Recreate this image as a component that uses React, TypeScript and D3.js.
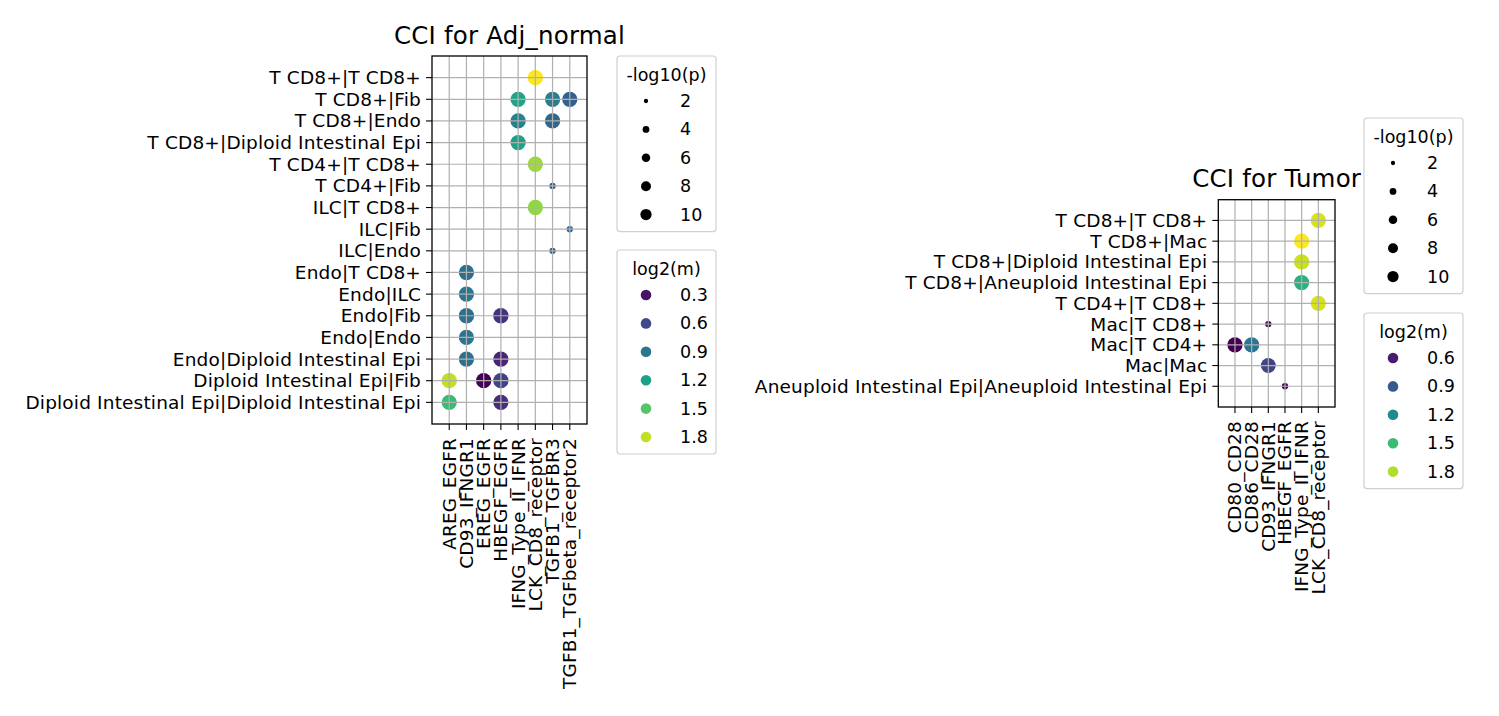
import React from 'react';
import * as d3 from 'd3';

const leftRows = [
  'T CD8+|T CD8+', 'T CD8+|Fib', 'T CD8+|Endo', 'T CD8+|Diploid Intestinal Epi',
  'T CD4+|T CD8+', 'T CD4+|Fib', 'ILC|T CD8+', 'ILC|Fib', 'ILC|Endo',
  'Endo|T CD8+', 'Endo|ILC', 'Endo|Fib', 'Endo|Endo', 'Endo|Diploid Intestinal Epi',
  'Diploid Intestinal Epi|Fib', 'Diploid Intestinal Epi|Diploid Intestinal Epi',
];
const leftCols = [
  'AREG_EGFR', 'CD93_IFNGR1', 'EREG_EGFR', 'HBEGF_EGFR', 'IFNG_Type_II_IFNR',
  'LCK_CD8_receptor', 'TGFB1_TGFBR3', 'TGFB1_TGFbeta_receptor2',
];
// [pair, interaction, log2(m), -log10(p)]
const leftPoints: [string, string, number, number][] = [
  ['T CD8+|T CD8+', 'LCK_CD8_receptor', 1.97, 18],
  ['T CD8+|Fib', 'IFNG_Type_II_IFNR', 1.23, 18],
  ['T CD8+|Fib', 'TGFB1_TGFBR3', 0.95, 18],
  ['T CD8+|Fib', 'TGFB1_TGFbeta_receptor2', 0.74, 18],
  ['T CD8+|Endo', 'IFNG_Type_II_IFNR', 1.0, 18],
  ['T CD8+|Endo', 'TGFB1_TGFBR3', 0.79, 18],
  ['T CD8+|Diploid Intestinal Epi', 'IFNG_Type_II_IFNR', 1.22, 18],
  ['T CD4+|T CD8+', 'LCK_CD8_receptor', 1.71, 18],
  ['T CD4+|Fib', 'TGFB1_TGFBR3', 0.75, 3.6],
  ['ILC|T CD8+', 'LCK_CD8_receptor', 1.68, 18],
  ['ILC|Fib', 'TGFB1_TGFbeta_receptor2', 0.75, 3.6],
  ['ILC|Endo', 'TGFB1_TGFBR3', 0.75, 3.6],
  ['Endo|T CD8+', 'CD93_IFNGR1', 0.85, 18],
  ['Endo|ILC', 'CD93_IFNGR1', 0.9, 18],
  ['Endo|Fib', 'CD93_IFNGR1', 0.85, 18],
  ['Endo|Fib', 'HBEGF_EGFR', 0.47, 18],
  ['Endo|Endo', 'CD93_IFNGR1', 0.9, 18],
  ['Endo|Diploid Intestinal Epi', 'CD93_IFNGR1', 0.85, 18],
  ['Endo|Diploid Intestinal Epi', 'HBEGF_EGFR', 0.39, 18],
  ['Diploid Intestinal Epi|Fib', 'AREG_EGFR', 1.8, 18],
  ['Diploid Intestinal Epi|Fib', 'EREG_EGFR', 0.21, 18],
  ['Diploid Intestinal Epi|Fib', 'HBEGF_EGFR', 0.56, 18],
  ['Diploid Intestinal Epi|Diploid Intestinal Epi', 'AREG_EGFR', 1.41, 18],
  ['Diploid Intestinal Epi|Diploid Intestinal Epi', 'HBEGF_EGFR', 0.43, 18],
];
const leftColorDomain = [0.21, 1.97];
const leftColorTicks = [0.3, 0.6, 0.9, 1.2, 1.5, 1.8];

const rightRows = [
  'T CD8+|T CD8+', 'T CD8+|Mac', 'T CD8+|Diploid Intestinal Epi', 'T CD8+|Aneuploid Intestinal Epi',
  'T CD4+|T CD8+', 'Mac|T CD8+', 'Mac|T CD4+', 'Mac|Mac',
  'Aneuploid Intestinal Epi|Aneuploid Intestinal Epi',
];
const rightCols = [
  'CD80_CD28', 'CD86_CD28', 'CD93_IFNGR1', 'HBEGF_EGFR', 'IFNG_Type_II_IFNR', 'LCK_CD8_receptor',
];
const rightPoints: [string, string, number, number][] = [
  ['T CD8+|T CD8+', 'LCK_CD8_receptor', 1.89, 18],
  ['T CD8+|Mac', 'IFNG_Type_II_IFNR', 1.98, 18],
  ['T CD8+|Diploid Intestinal Epi', 'IFNG_Type_II_IFNR', 1.86, 18],
  ['T CD8+|Aneuploid Intestinal Epi', 'IFNG_Type_II_IFNR', 1.44, 18],
  ['T CD4+|T CD8+', 'LCK_CD8_receptor', 1.89, 18],
  ['Mac|T CD8+', 'CD93_IFNGR1', 0.5, 3.6],
  ['Mac|T CD4+', 'CD80_CD28', 0.48, 18],
  ['Mac|T CD4+', 'CD86_CD28', 1.07, 18],
  ['Mac|Mac', 'CD93_IFNGR1', 0.78, 17],
  ['Aneuploid Intestinal Epi|Aneuploid Intestinal Epi', 'HBEGF_EGFR', 0.5, 3.6],
];
const rightColorDomain = [0.48, 1.98];
const rightColorTicks = [0.6, 0.9, 1.2, 1.5, 1.8];

const sizeTicks = [2, 4, 6, 8, 10];

const FONT = 'DejaVu Sans, sans-serif';
const TICK_FS = 18.5;
const TICK_LS = 0.17;
const TITLE_FS = 24.5;
const TITLE_LS = 0.2;
const LEG_FS = 17.5;

// marker area (diameter^2) is linear in -log10(p)
const areaScale = d3.scaleLinear().domain([2, 10]).range([18.5, 126.5]);
const radius = (v: number) => Math.sqrt(Math.max(areaScale(v), 1)) / 2;

type Box = { x0: number; x1: number; y0: number; y1: number };

function Panel({ rows, cols, points, box, title, colorDomain }: {
  rows: string[]; cols: string[]; points: [string, string, number, number][];
  box: Box; title: string; colorDomain: number[];
}) {
  const x = d3.scalePoint<string>().domain(cols).range([box.x0, box.x1]).padding(1);
  const y = d3.scalePoint<string>().domain(rows).range([box.y0, box.y1]).padding(1);
  const color = d3.scaleSequential(d3.interpolateViridis).domain(colorDomain as [number, number]);
  return (
    <g>
      <text x={(box.x0 + box.x1) / 2} y={box.y0 - 12.5} textAnchor="middle" fontSize={TITLE_FS} letterSpacing={TITLE_LS} fill="#000">{title}</text>
      {points.map((p, i) => (
        <circle key={i} cx={x(p[1])} cy={y(p[0])} r={radius(p[3])} fill={color(p[2])} />
      ))}
      {cols.map((c) => (
        <line key={'gx' + c} x1={x(c)} x2={x(c)} y1={box.y0} y2={box.y1} stroke="#b0b0b0" strokeWidth={1.2} />
      ))}
      {rows.map((r) => (
        <line key={'gy' + r} x1={box.x0} x2={box.x1} y1={y(r)} y2={y(r)} stroke="#b0b0b0" strokeWidth={1.2} />
      ))}
      <rect x={box.x0} y={box.y0} width={box.x1 - box.x0} height={box.y1 - box.y0} fill="none" stroke="#000" strokeWidth={1.3} />
      {rows.map((r) => (
        <g key={'ty' + r}>
          <line x1={box.x0 - 6} x2={box.x0} y1={y(r)} y2={y(r)} stroke="#000" strokeWidth={1.1} />
          <text x={box.x0 - 11} y={y(r)} textAnchor="end" dominantBaseline="central" fontSize={TICK_FS} letterSpacing={TICK_LS} fill="#000">{r}</text>
        </g>
      ))}
      {cols.map((c) => (
        <g key={'tx' + c}>
          <line x1={x(c)} x2={x(c)} y1={box.y1} y2={box.y1 + 6} stroke="#000" strokeWidth={1.1} />
          <text transform={`translate(${x(c)},${box.y1 + 14}) rotate(-90)`} textAnchor="end" dominantBaseline="central" fontSize={TICK_FS} letterSpacing={TICK_LS} fill="#000">{c}</text>
        </g>
      ))}
    </g>
  );
}

function Legend({ x, y, title, entries }: {
  x: number; y: number; title: string; entries: { label: string; r: number; fill: string }[];
}) {
  const w = 99;
  const first = 45;
  const step = 28.4;
  const h = first + (entries.length - 1) * step + 17;
  return (
    <g>
      <rect x={x} y={y} width={w} height={h} rx={3} fill="#fff" stroke="#d0d0d0" strokeWidth={1.2} />
      <text x={x + w / 2} y={y + 19} textAnchor="middle" dominantBaseline="central" fontSize={LEG_FS} fill="#000">{title}</text>
      {entries.map((e, i) => (
        <g key={i}>
          <circle cx={x + 29} cy={y + first + i * step} r={e.r} fill={e.fill} />
          <text x={x + 63} y={y + first + i * step} dominantBaseline="central" fontSize={LEG_FS} fill="#000">{e.label}</text>
        </g>
      ))}
    </g>
  );
}

export default function App() {
  const leftColor = d3.scaleSequential(d3.interpolateViridis).domain(leftColorDomain as [number, number]);
  const rightColor = d3.scaleSequential(d3.interpolateViridis).domain(rightColorDomain as [number, number]);
  const sizeEntries = sizeTicks.map((v) => ({ label: String(v), r: radius(v), fill: '#000' }));
  return (
    <svg width={1499} height={716} style={{ position: 'absolute', left: 0, top: 0, background: '#fff' }} fontFamily={FONT}>
      <rect width={1499} height={716} fill="#fff" />
      <Panel rows={leftRows} cols={leftCols} points={leftPoints} box={{ x0: 432, x1: 587, y0: 56, y1: 424 }} title="CCI for Adj_normal" colorDomain={leftColorDomain} />
      <Panel rows={rightRows} cols={rightCols} points={rightPoints} box={{ x0: 1218.3, x1: 1335, y0: 199.7, y1: 407 }} title="CCI for Tumor" colorDomain={rightColorDomain} />
      <Legend x={617} y={56} title="-log10(p)" entries={sizeEntries} />
      <Legend x={617} y={250} title="log2(m)" entries={leftColorTicks.map((v) => ({ label: v.toFixed(1), r: 5.3, fill: leftColor(v) }))} />
      <Legend x={1364} y={118} title="-log10(p)" entries={sizeEntries} />
      <Legend x={1364} y={313} title="log2(m)" entries={rightColorTicks.map((v) => ({ label: v.toFixed(1), r: 5.3, fill: rightColor(v) }))} />
    </svg>
  );
}
